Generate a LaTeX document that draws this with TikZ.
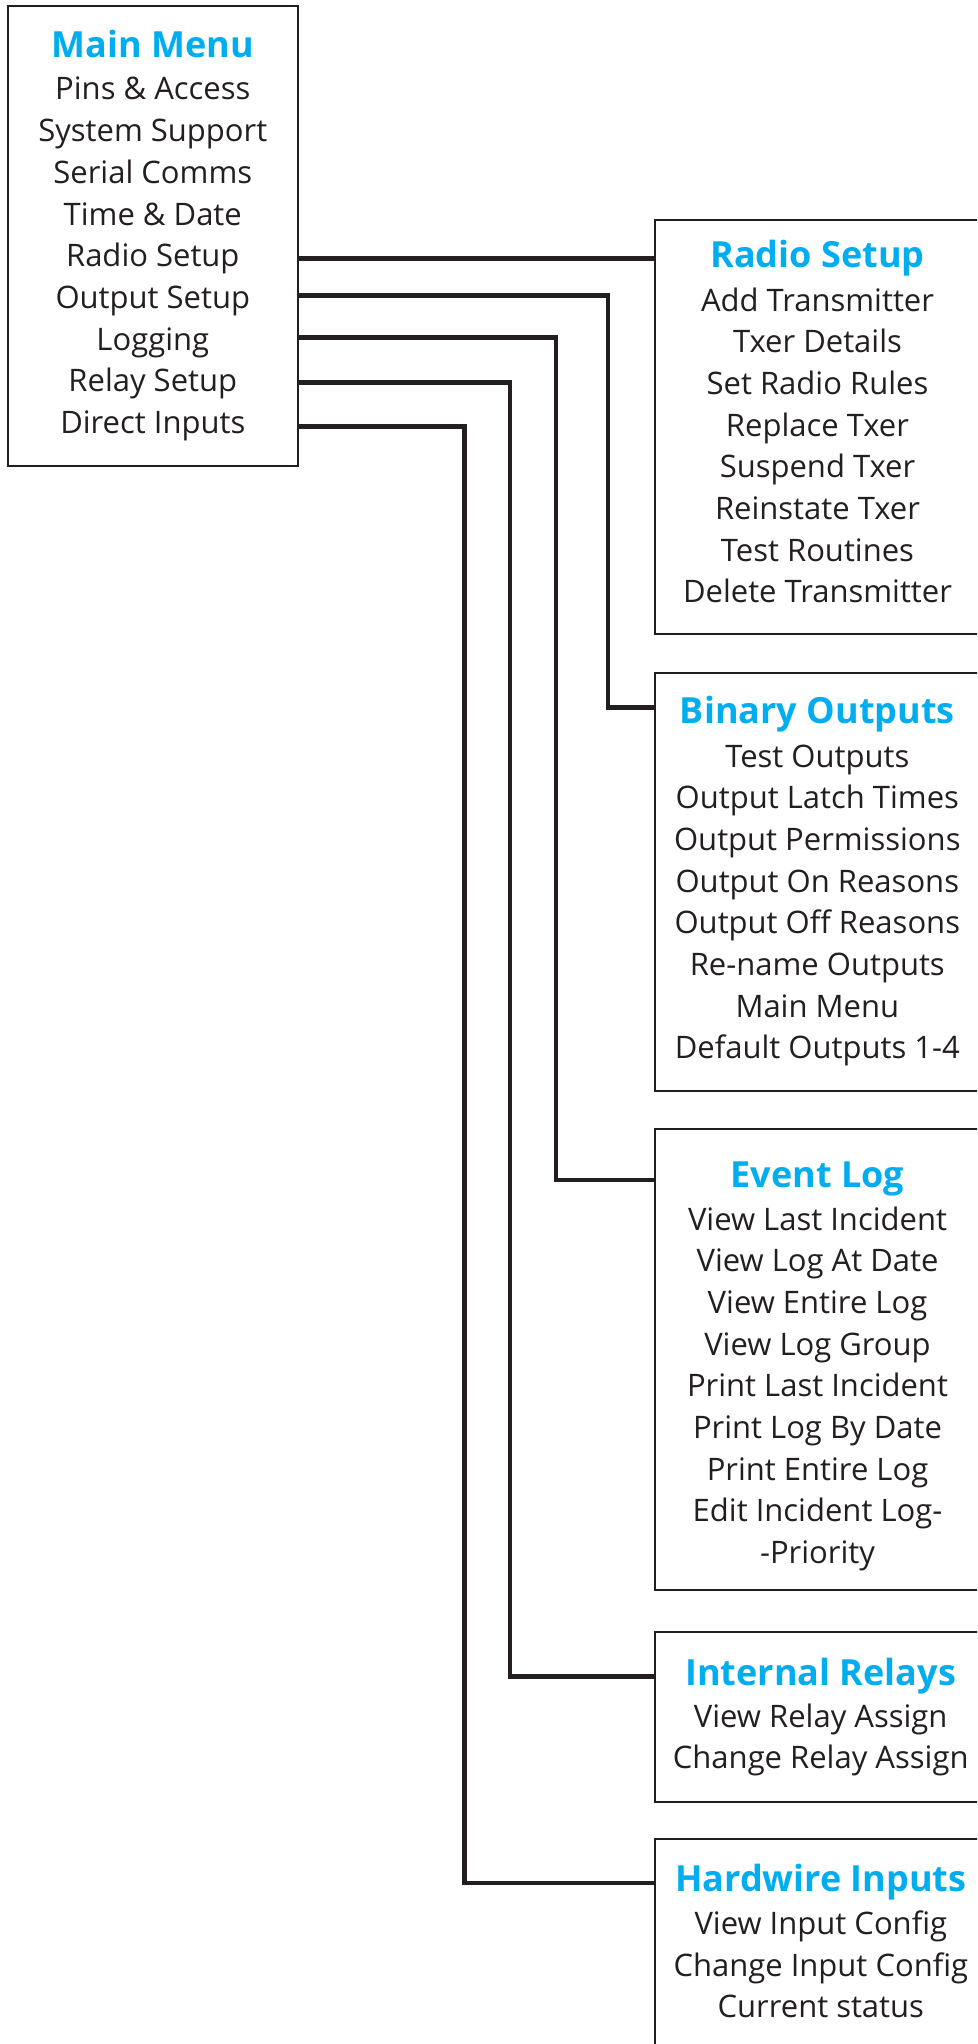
\documentclass[tikz,border=0pt]{standalone}
\usepackage{fontspec}
\setmainfont{Open Sans}
\definecolor{ttl}{RGB}{0,174,239}
\definecolor{ink}{RGB}{35,31,32}
\tikzset{
  box/.style={draw=ink, line width=2pt, rectangle, inner sep=0pt, outer sep=0pt, anchor=north west},
  conn/.style={draw=ink, line width=4.6pt, line join=miter, line cap=butt},
  ttlnode/.style={anchor=base, inner sep=0pt, text=ttl, font=\bfseries\fontsize{36}{40}\selectfont},
  itemnode/.style={anchor=base, inner sep=0pt, text=ink, font=\fontsize{31}{40}\selectfont},
}
\begin{document}
\begin{tikzpicture}[x=1pt,y=-1pt]
\useasboundingbox (0,0) rectangle (977,2044);
\clip (0,0) rectangle (977,2044);
\fill[white] (0,0) rectangle (977,2044);
% boxes
\node[box, minimum width=289.5pt, minimum height=459.5pt] (main) at (8,6.5) {};
\node[box, minimum width=325pt, minimum height=414pt] (radio) at (655,220) {};
\node[box, minimum width=325pt, minimum height=417.7pt] (bin) at (655,673.3) {};
\node[box, minimum width=325pt, minimum height=461pt] (event) at (655,1128.6) {};
\node[box, minimum width=331.6pt, minimum height=169.6pt] (relay) at (655,1632) {};
\node[box, minimum width=331.6pt, minimum height=240pt] (hw) at (655,1838.5) {};
% main menu
\node[ttlnode] (mt) at (152.8,57.3) {Main Menu};
\foreach \t [count=\i from 0] in {Pins \& Access,System Support,Serial Comms,Time \& Date,Radio Setup,Output Setup,Logging,Relay Setup,Direct Inputs}
  \node[itemnode] (m\i) at (152.8,100+41.7*\i) {\t};
% radio setup
\node[ttlnode] (rt) at (817.5,267.3) {Radio Setup};
\foreach \t [count=\i from 0] in {Add Transmitter,Txer Details,Set Radio Rules,Replace Txer,Suspend Txer,Reinstate Txer,Test Routines,Delete Transmitter}
  \node[itemnode] (r\i) at (817.5,311+41.7*\i) {\t};
% binary outputs
\node[ttlnode] (bt) at (817.3,723.7) {Binary Outputs};
\foreach \t [count=\i from 0] in {Test Outputs,Output Latch Times,Output Permissions,Output On Reasons,Output Off Reasons,Re-name Outputs,Main Menu,Default Outputs 1-4}
  \node[itemnode] (b\i) at (817.3,767+41.7*\i) {\t};
% event log
\node[ttlnode] (et) at (817.5,1187) {Event Log};
\foreach \t [count=\i from 0] in {View Last Incident,View Log At Date,View Entire Log,View Log Group,Print Last Incident,Print Log By Date,Print Entire Log,Edit Incident Log-,-Priority}
  \node[itemnode] (e\i) at (817.5,1230+41.7*\i) {\t};
% internal relays
\node[ttlnode] (it) at (820.7,1685.5) {Internal Relays};
\foreach \t [count=\i from 0] in {View Relay Assign,Change Relay Assign}
  \node[itemnode] (i\i) at (820.7,1727+41.7*\i) {\t};
% hardwire inputs
\node[ttlnode] (ht) at (820.8,1891.7) {Hardwire Inputs};
\foreach \t [count=\i from 0] in {View Input Config,Change Input Config,Current status}
  \node[itemnode] (h\i) at (820.8,1934.3+41.7*\i) {\t};
% connectors
\draw[conn] (main.east |- 0,258.3) -- ([yshift=-38.3pt]radio.north west);
\draw[conn] (main.east |- 0,295.3) -- (608,295.3) |- ([yshift=-34.4pt]bin.north west);
\draw[conn] (main.east |- 0,337.7) -- (556,337.7) |- ([yshift=-51.4pt]event.north west);
\draw[conn] (main.east |- 0,382.7) -- (510,382.7) |- ([yshift=-44.6pt]relay.north west);
\draw[conn] (main.east |- 0,426.7) -- (464.5,426.7) |- ([yshift=-44.5pt]hw.north west);
\end{tikzpicture}
\end{document}
